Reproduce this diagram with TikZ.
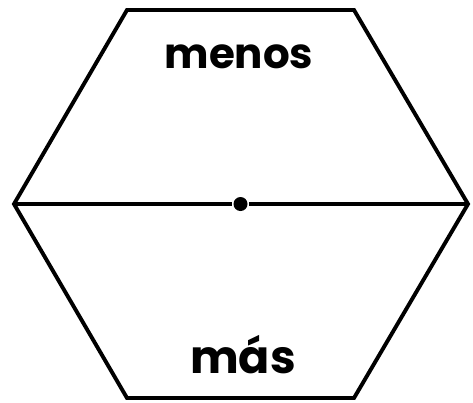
\documentclass[tikz,border=0pt]{standalone}
\usepackage{fontspec}
\setmainfont{Poppins}
\usetikzlibrary{positioning}

\begin{document}
\begin{tikzpicture}[x=1pt,y=-1pt,line width=3.9pt,line join=miter,
	word/.style={font=\bfseries\fontsize{42}{42}\selectfont,inner sep=0pt,anchor=base},
	dot node/.style={circle,fill,inner sep=0pt,minimum size=14pt}]
	
	\useasboundingbox (0,0) rectangle (473,402);
	
	\coordinate (TL) at (127,10);
	\coordinate (TR) at (354,10);
	\coordinate (R) at (468,204);
	\coordinate (BR) at (354,398);
	\coordinate (BL) at (127,398);
	\coordinate (L) at (14,204);
	\node[dot node] (C) at (240.5,204) {};
	
	\node[word] (menos) at (239,68) {menos};
	\node[word,font=\bfseries\fontsize{46}{46}\selectfont] (mas) at (243,373) {más};
	
	\draw (TL) -- (TR) -- (R) -- (BR) -- (BL) -- (L) -- cycle;
	\draw[line width=3.4pt] (L) -- (C) -- (R);
	
\end{tikzpicture}
\end{document}
